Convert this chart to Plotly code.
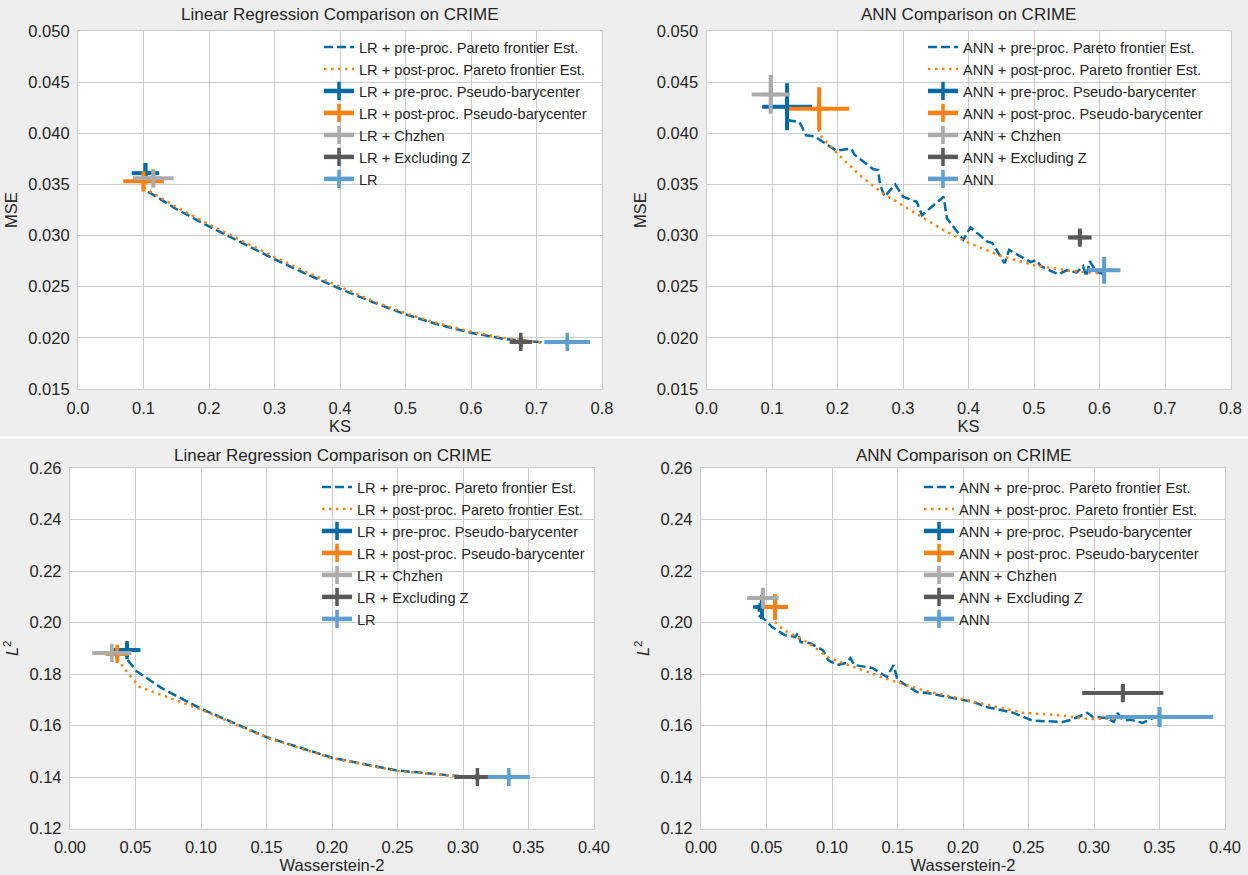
import plotly.graph_objects as go

# ---------------- data ----------------
# Top-left: LR, KS vs MSE
lr_ks_pre_x = [0.107, 0.15, 0.2, 0.25, 0.3, 0.35, 0.4, 0.45, 0.5, 0.55, 0.6, 0.65, 0.7, 0.72]
lr_ks_pre_y = [0.0343, 0.0326, 0.0309, 0.0293, 0.0277, 0.0262, 0.0248, 0.0235, 0.0223, 0.0213, 0.0205, 0.0199, 0.0196, 0.0195]
lr_ks_post_x = [0.100, 0.15, 0.2, 0.25, 0.3, 0.35, 0.4, 0.45, 0.5, 0.55, 0.6, 0.65, 0.7, 0.72]
lr_ks_post_y = [0.0347, 0.0328, 0.0311, 0.0295, 0.0279, 0.0264, 0.0250, 0.0236, 0.0224, 0.0214, 0.0206, 0.0200, 0.0196, 0.0195]
# points: (x, y, err_x, err_y)
lr_ks_points = {
    "pre":  (0.103, 0.0361, 0.021, 0.0010),
    "post": (0.100, 0.0353, 0.031, 0.0010),
    "chz":  (0.115, 0.0356, 0.031, 0.0009),
    "exz":  (0.676, 0.0196, 0.017, 0.0005),
    "base": (0.747, 0.0196, 0.035, 0.0003),
}

# Top-right: ANN, KS vs MSE
ann_ks_pre_x = [0.123, 0.142, 0.152, 0.165, 0.198, 0.221, 0.226, 0.254, 0.262, 0.265, 0.272, 0.288, 0.300,
                0.321, 0.329, 0.362, 0.367, 0.392, 0.403, 0.429, 0.436, 0.455, 0.462, 0.495, 0.503, 0.511,
                0.537, 0.55, 0.565, 0.575, 0.58, 0.585, 0.595, 0.607]
ann_ks_pre_y = [0.0413, 0.0411, 0.0398, 0.0397, 0.0383, 0.0385, 0.0379, 0.0365, 0.0364, 0.0350, 0.0338, 0.0350, 0.0338,
                0.0333, 0.0320, 0.0338, 0.0317, 0.0296, 0.0308, 0.0294, 0.0293, 0.0273, 0.0286, 0.0274, 0.0276, 0.0270,
                0.0262, 0.0266, 0.0264, 0.0270, 0.0260, 0.0275, 0.0265, 0.0262]
ann_ks_post_x = [0.171, 0.175, 0.203, 0.234, 0.27, 0.32, 0.36, 0.40, 0.45, 0.50, 0.55, 0.60]
ann_ks_post_y = [0.0404, 0.0397, 0.0378, 0.0359, 0.0341, 0.0322, 0.0306, 0.0293, 0.0280, 0.0271, 0.0266, 0.0263]
ann_ks_points = {
    "pre":  (0.123, 0.0426, 0.038, 0.0023),
    "post": (0.172, 0.0424, 0.046, 0.0021),
    "chz":  (0.098, 0.0438, 0.029, 0.0019),
    "exz":  (0.570, 0.0298, 0.018, 0.0008),
    "base": (0.607, 0.0266, 0.025, 0.0013),
}

# Bottom-left: LR, Wasserstein-2 vs L2
lr_w_pre_x = [0.044, 0.051, 0.07, 0.1, 0.15, 0.2, 0.25, 0.3, 0.33]
lr_w_pre_y = [0.1854, 0.181, 0.1745, 0.1665, 0.1555, 0.1475, 0.1425, 0.1402, 0.1400]
lr_w_post_x = [0.036, 0.0435, 0.053, 0.079, 0.097, 0.15, 0.2, 0.25, 0.3, 0.33]
lr_w_post_y = [0.186, 0.1808, 0.175, 0.170, 0.1668, 0.1553, 0.1473, 0.1423, 0.1401, 0.1400]
lr_w_points = {
    "pre":  (0.0435, 0.1893, 0.0103, 0.0027),
    "post": (0.036, 0.1878, 0.0087, 0.0020),
    "chz":  (0.032, 0.1882, 0.015, 0.0015),
    "exz":  (0.311, 0.1400, 0.0176, 0.0012),
    "base": (0.335, 0.1400, 0.016, 0.0010),
}

# Bottom-right: ANN, Wasserstein-2 vs L2
ann_w_pre_x = [0.045, 0.0435, 0.049, 0.054, 0.064, 0.072, 0.074, 0.076, 0.083, 0.093, 0.097, 0.104, 0.111,
               0.114, 0.117, 0.131, 0.142, 0.147, 0.150, 0.165, 0.172, 0.192, 0.208, 0.218, 0.228, 0.238,
               0.253, 0.276, 0.282, 0.295, 0.299, 0.310, 0.315, 0.318, 0.322, 0.329, 0.337, 0.345]
ann_w_pre_y = [0.2076, 0.2029, 0.2010, 0.1983, 0.1951, 0.1944, 0.1960, 0.1924, 0.1920, 0.1893, 0.1854, 0.1835, 0.1843,
               0.1862, 0.1835, 0.1823, 0.1788, 0.1835, 0.1777, 0.1730, 0.1727, 0.1707, 0.1691, 0.1672, 0.1660, 0.1650,
               0.1619, 0.1614, 0.1621, 0.1649, 0.1633, 0.1629, 0.1614, 0.1649, 0.1621, 0.1621, 0.1610, 0.1629]
ann_w_post_x = [0.0565, 0.063, 0.081, 0.098, 0.119, 0.144, 0.169, 0.203, 0.228, 0.246, 0.272, 0.297, 0.327, 0.345]
ann_w_post_y = [0.2002, 0.1971, 0.1924, 0.1862, 0.1823, 0.1777, 0.1738, 0.1699, 0.1668, 0.1649, 0.1641, 0.1625, 0.1629, 0.1633]
ann_w_points = {
    "pre":  (0.0466, 0.2060, 0.005, 0.0047),
    "post": (0.0565, 0.2060, 0.010, 0.0050),
    "chz":  (0.0473, 0.2095, 0.012, 0.0040),
    "exz":  (0.322, 0.1726, 0.031, 0.0033),
    "base": (0.350, 0.1633, 0.041, 0.0039),
}

# ---------------- styling ----------------
FONT = "Liberation Sans, Arial, sans-serif"
TXT = "#262626"
C_PRE = "#006BA4"
C_POST = "#FF800E"
C_CHZ = "#ABABAB"
C_EXZ = "#595959"
C_BASE = "#5F9ED1"
W, H = 1248, 875

fig = go.Figure()

panels = [
    ("LR", "x", "y", "legend", (lr_ks_pre_x, lr_ks_pre_y, lr_ks_post_x, lr_ks_post_y), lr_ks_points),
    ("ANN", "x2", "y2", "legend2", (ann_ks_pre_x, ann_ks_pre_y, ann_ks_post_x, ann_ks_post_y), ann_ks_points),
    ("LR", "x3", "y3", "legend3", (lr_w_pre_x, lr_w_pre_y, lr_w_post_x, lr_w_post_y), lr_w_points),
    ("ANN", "x4", "y4", "legend4", (ann_w_pre_x, ann_w_pre_y, ann_w_post_x, ann_w_post_y), ann_w_points),
]

for name, xa, ya, lg, (px, py, qx, qy), pts in panels:
    fig.add_trace(go.Scatter(x=px, y=py, mode="lines", xaxis=xa, yaxis=ya, legend=lg,
                             name=f"{name} + pre-proc. Pareto frontier Est.",
                             line=dict(color=C_PRE, width=2.5, dash="9px,4px")))
    fig.add_trace(go.Scatter(x=qx, y=qy, mode="lines", xaxis=xa, yaxis=ya, legend=lg,
                             name=f"{name} + post-proc. Pareto frontier Est.",
                             line=dict(color=C_POST, width=2.5, dash="2.5px,4.5px")))
    entries = [
        ("pre", C_PRE, f"{name} + pre-proc. Pseudo-barycenter"),
        ("post", C_POST, f"{name} + post-proc. Pseudo-barycenter"),
        ("chz", C_CHZ, f"{name} + Chzhen"),
        ("exz", C_EXZ, f"{name} + Excluding Z"),
        ("base", C_BASE, f"{name}"),
    ]
    for key, col, label in entries:
        x0, y0, ex, ey = pts[key]
        fig.add_trace(go.Scatter(
            x=[x0], y=[y0], mode="lines+markers", xaxis=xa, yaxis=ya, legend=lg, name=label,
            line=dict(color=col, width=4.5),
            marker=dict(symbol="cross-thin", size=13, color=col, line=dict(color=col, width=3.5)),
            error_x=dict(type="data", array=[ex], symmetric=True, thickness=4, width=0, color=col),
            error_y=dict(type="data", array=[ey], symmetric=True, thickness=4, width=0, color=col),
        ))

def px2x(p):
    return p / W

def py2y(p):
    return 1 - p / H

dom = {
    "x": [px2x(78), px2x(602)],
    "x2": [px2x(706.5), px2x(1230.5)],
    "x3": [px2x(70), px2x(594)],
    "x4": [px2x(701), px2x(1225)],
    "ytop": [py2y(389), py2y(31)],
    "ybot": [py2y(828.5), py2y(468)],
}

axis_common = dict(
    automargin=False,
    showgrid=True, gridcolor="#cccccc", gridwidth=1,
    showline=True, linecolor="#cccccc", linewidth=1.25, mirror=True,
    zeroline=False, ticks="outside", ticklen=4, tickcolor="rgba(0,0,0,0)",
    tickfont=dict(family=FONT, size=16.5, color=TXT),
    title_font=dict(family=FONT, size=16.5, color=TXT),
)

def xax(domain, anchor, rng, dtick, fmt, title):
    d = dict(axis_common)
    d.update(domain=domain, anchor=anchor, range=rng, dtick=dtick, tick0=0, tickformat=fmt,
             title=dict(text=title, standoff=2))
    return d

def yax(domain, anchor, rng, dtick, fmt, title):
    d = dict(axis_common)
    d.update(domain=domain, anchor=anchor, range=rng, dtick=dtick, tick0=0, tickformat=fmt,
             title=dict(text=title, standoff=6))
    return d

L2T = "<i>L</i><sup>2</sup>"
fig.update_layout(
    width=W, height=H,
    margin=dict(l=0, r=0, t=0, b=0),
    paper_bgcolor="#eeeeee", plot_bgcolor="white",
    font=dict(family=FONT, color=TXT),
    xaxis=xax(dom["x"], "y", [0, 0.8], 0.1, ".1f", "KS"),
    yaxis=yax(dom["ytop"], "x", [0.015, 0.05], 0.005, ".3f", "MSE"),
    xaxis2=xax(dom["x2"], "y2", [0, 0.8], 0.1, ".1f", "KS"),
    yaxis2=yax(dom["ytop"], "x2", [0.015, 0.05], 0.005, ".3f", "MSE"),
    xaxis3=xax(dom["x3"], "y3", [0, 0.4], 0.05, ".2f", "Wasserstein-2"),
    yaxis3=yax(dom["ybot"], "x3", [0.12, 0.26], 0.02, ".2f", L2T),
    xaxis4=xax(dom["x4"], "y4", [0, 0.4], 0.05, ".2f", "Wasserstein-2"),
    yaxis4=yax(dom["ybot"], "x4", [0.12, 0.26], 0.02, ".2f", L2T),
)

leg_common = dict(bgcolor="rgba(0,0,0,0)", borderwidth=0, xanchor="right", yanchor="top",
                  font=dict(family=FONT, size=14.6, color=TXT), tracegroupgap=0, itemwidth=30)
fig.update_layout(
    legend=dict(leg_common, x=px2x(592), y=py2y(31)),
    legend2=dict(leg_common, x=px2x(1208), y=py2y(31)),
    legend3=dict(leg_common, x=px2x(590), y=py2y(471)),
    legend4=dict(leg_common, x=px2x(1204), y=py2y(471)),
)

titles = [
    ("Linear Regression Comparison on CRIME", (78 + 602) / 2, 14),
    ("ANN Comparison on CRIME", (706.5 + 1230.5) / 2, 14),
    ("Linear Regression Comparison on CRIME", (70 + 594) / 2, 455),
    ("ANN Comparison on CRIME", (701 + 1225) / 2, 455),
]
for t, cx, cy in titles:
    fig.add_annotation(text=t, x=px2x(cx), y=py2y(cy), xref="paper", yref="paper",
                       showarrow=False, xanchor="center", yanchor="middle",
                       font=dict(family=FONT, size=17, color=TXT))

fig.add_shape(type="line", xref="paper", yref="paper", x0=0, x1=1, y0=py2y(437.5), y1=py2y(437.5),
              line=dict(color="white", width=2))

fig.write_html("out.html", config={"displayModeBar": False},
               post_script="document.body.style.margin='0px';document.body.style.background='#eeeeee';")
